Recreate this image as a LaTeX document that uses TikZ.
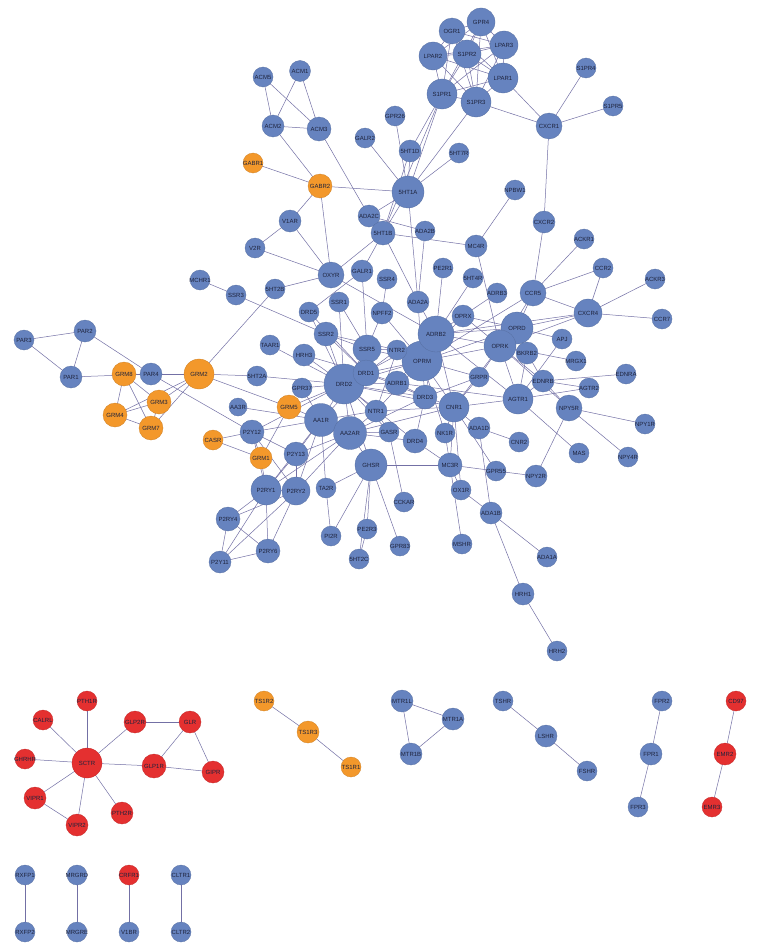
\documentclass[tikz,border=0pt]{standalone}
\usepackage{fontspec}
\setmainfont{Liberation Sans}
\definecolor{nblue}{RGB}{102,131,191}
\definecolor{norange}{RGB}{243,152,43}
\definecolor{nred}{RGB}{228,48,48}
\definecolor{nedge}{RGB}{115,112,165}
\definecolor{ntext}{RGB}{30,35,60}
\pgfdeclarelayer{bg}\pgfdeclarelayer{edges}\pgfsetlayers{bg,edges,main}
\tikzset{
 gnode/.style={circle, inner sep=0pt, font=\fontsize{6}{6}\selectfont, text=ntext, line width=0.3pt},
 bl/.style={gnode, fill=nblue, draw=nblue!85!black},
 org/.style={gnode, fill=norange, draw=norange!85!black},
 rd/.style={gnode, fill=nred, draw=nred!85!black},
 lnk/.style={draw=nedge, line width=0.5pt},
}
\newcommand\gn[5]{\node[#1,minimum size=#5pt] (n#2) at (#3,#4) {\makebox[0pt]{#2}};}
\begin{document}
\begin{tikzpicture}[x=1pt,y=-1pt]
\begin{pgfonlayer}{bg}
\fill[white] (0,0) rectangle (760,950);
\end{pgfonlayer}
\useasboundingbox (0,0) rectangle (760,950);
% main component
\gn{bl}{OGR1}{452}{31}{26}
\gn{bl}{GPR4}{481}{22}{28}
\gn{bl}{LPAR3}{504}{45}{28}
\gn{bl}{S1PR2}{467}{54}{28}
\gn{bl}{LPAR2}{433}{56}{28}
\gn{bl}{LPAR1}{503}{78}{30}
\gn{bl}{S1PR1}{442}{94}{30}
\gn{bl}{S1PR3}{476}{102}{30}
\gn{bl}{S1PR4}{586}{68}{20}
\gn{bl}{S1PR5}{613}{106}{20}
\gn{bl}{CXCR1}{549}{126}{26}
\gn{bl}{ACM5}{263}{77}{20}
\gn{bl}{ACM1}{300}{71}{21}
\gn{bl}{ACM2}{273}{126}{22}
\gn{bl}{ACM3}{319}{129}{24}
\gn{bl}{GPR26}{395}{116}{20}
\gn{bl}{GALR2}{365}{138}{20}
\gn{bl}{5HT1D}{410}{151}{22}
\gn{bl}{5HT7R}{459}{153}{20}
\gn{org}{GABR1}{253}{163}{20}
\gn{org}{GABR2}{320}{186}{24}
\gn{bl}{5HT1A}{408}{192}{32}
\gn{bl}{NPBW1}{515}{190}{20}
\gn{bl}{V1AR}{290}{221}{22}
\gn{bl}{ADA2C}{369}{216}{22}
\gn{bl}{CXCR2}{544}{222}{22}
\gn{bl}{5HT1B}{383}{233}{24}
\gn{bl}{ADA2B}{425}{231}{20}
\gn{bl}{MC4R}{476}{246}{22}
\gn{bl}{V2R}{255}{248}{20}
\gn{bl}{ACKR1}{584}{239}{20}
\gn{bl}{PE2R1}{443}{268}{20}
\gn{bl}{CCR2}{603}{268}{20}
\gn{bl}{OXYR}{331}{275}{26}
\gn{bl}{GALR1}{362}{271}{22}
\gn{bl}{5HT4R}{473}{278}{20}
\gn{bl}{SSR4}{387}{279}{20}
\gn{bl}{ACKR3}{655}{279}{20}
\gn{bl}{MCHR1}{200}{280}{20}
\gn{bl}{5HT2B}{275}{289}{20}
\gn{bl}{SSR3}{236}{295}{20}
\gn{bl}{ADRB3}{497}{293}{20}
\gn{bl}{CCR5}{533}{293}{26}
\gn{bl}{SSR1}{339}{302}{20}
\gn{bl}{ADA2A}{418}{302}{22}
\gn{bl}{DRD5}{309}{312}{20}
\gn{bl}{NPFF2}{382}{313}{22}
\gn{bl}{CXCR4}{588}{313}{28}
\gn{bl}{OPRX}{463}{316}{22}
\gn{bl}{CCR7}{662}{319}{20}
\gn{bl}{OPRD}{517}{328}{32}
\gn{bl}{SSR2}{326}{334}{24}
\gn{bl}{OPRM}{422}{361}{40}
\gn{bl}{ADRB2}{436}{334}{36}
\gn{bl}{PAR2}{85}{331}{22}
\gn{bl}{PAR3}{24}{340}{20}
\gn{bl}{APJ}{562}{339}{20}
\gn{bl}{TAAR1}{270}{345}{20}
\gn{bl}{OPRK}{500}{346}{32}
\gn{bl}{SSR5}{367}{349}{28}
\gn{bl}{NTR2}{397}{350}{20}
\gn{bl}{HRH3}{304}{355}{22}
\gn{bl}{BKRB2}{527}{353}{22}
\gn{bl}{MRGX1}{576}{361}{20}
\gn{bl}{DRD2}{344}{384}{40}
\gn{bl}{DRD1}{366}{373}{26}
\gn{bl}{EDNRA}{626}{374}{20}
\gn{bl}{PAR1}{71}{377}{22}
\gn{org}{GRM8}{124}{374}{24}
\gn{bl}{PAR4}{151}{374}{22}
\gn{org}{GRM2}{199}{374}{30}
\gn{bl}{5HT2A}{257}{376}{20}
\gn{bl}{GRPR}{479}{377}{20}
\gn{bl}{EDNRB}{543}{381}{22}
\gn{bl}{ADRB1}{397}{383}{24}
\gn{bl}{GPR37}{302}{388}{20}
\gn{bl}{AGTR2}{589}{388}{20}
\gn{bl}{DRD3}{425}{397}{24}
\gn{bl}{AGTR1}{518}{399}{30}
\gn{org}{GRM3}{159}{402}{24}
\gn{bl}{AA3R}{238}{407}{18}
\gn{org}{GRM5}{289}{407}{24}
\gn{bl}{CNR1}{454}{407}{30}
\gn{bl}{NPY5R}{569}{408}{26}
\gn{bl}{NTR1}{376}{411}{22}
\gn{org}{GRM4}{115}{415}{24}
\gn{bl}{AA1R}{321}{420}{33}
\gn{bl}{NPY1R}{645}{424}{20}
\gn{org}{GRM7}{151}{428}{24}
\gn{bl}{ADA1D}{479}{428}{22}
\gn{bl}{P2Y12}{252}{432}{24}
\gn{bl}{AA2AR}{350}{433}{33}
\gn{bl}{GASR}{389}{432}{20}
\gn{bl}{NK1R}{445}{433}{20}
\gn{bl}{DRD4}{415}{441}{24}
\gn{bl}{CNR2}{519}{442}{20}
\gn{org}{CASR}{213}{440}{20}
\gn{bl}{MAS}{579}{453}{20}
\gn{bl}{P2Y13}{296}{454}{24}
\gn{org}{GRM1}{261}{458}{22}
\gn{bl}{NPY4R}{628}{457}{20}
\gn{bl}{GHSR}{371}{465}{32}
\gn{bl}{MC3R}{450}{465}{24}
\gn{bl}{GPR55}{496}{471}{20}
\gn{bl}{NPY2R}{536}{476}{22}
\gn{bl}{P2RY1}{266}{490}{30}
\gn{bl}{P2RY2}{296}{491}{28}
\gn{bl}{TA2R}{326}{488}{20}
\gn{bl}{OX1R}{461}{490}{20}
\gn{bl}{CCKAR}{404}{502}{20}
\gn{bl}{ADA1B}{491}{513}{22}
\gn{bl}{P2RY4}{228}{519}{24}
\gn{bl}{PE2R3}{367}{529}{20}
\gn{bl}{PI2R}{331}{536}{20}
\gn{bl}{GPR83}{400}{546}{20}
\gn{bl}{MSHR}{462}{544}{20}
\gn{bl}{P2RY6}{268}{551}{24}
\gn{bl}{ADA1A}{547}{557}{20}
\gn{bl}{5HT2C}{359}{559}{20}
\gn{bl}{P2Y11}{220}{562}{22}
\gn{bl}{HRH1}{523}{594}{22}
\gn{bl}{HRH2}{557}{651}{20}
% small components
\gn{rd}{PTH1R}{87}{701}{20}
\gn{rd}{CALRL}{43}{720}{20}
\gn{rd}{GLP2R}{135}{722}{22}
\gn{rd}{GLR}{190}{722}{22}
\gn{rd}{GHRHR}{25}{759}{20}
\gn{rd}{SCTR}{87}{763}{30}
\gn{rd}{GLP1R}{154}{766}{24}
\gn{rd}{GIPR}{213}{772}{22}
\gn{rd}{VIPR1}{35}{798}{22}
\gn{rd}{PTH2R}{122}{813}{22}
\gn{rd}{VIPR2}{77}{825}{22}
\gn{org}{TS1R2}{264}{701}{20}
\gn{org}{TS1R3}{308}{732}{22}
\gn{org}{TS1R1}{351}{767}{20}
\gn{bl}{RXFP1}{25}{875}{20}
\gn{bl}{RXFP2}{25}{932}{20}
\gn{bl}{MRGRD}{77}{875}{20}
\gn{bl}{MRGRE}{77}{932}{20}
\gn{rd}{CRFR1}{129}{875}{20}
\gn{bl}{V1BR}{129}{932}{20}
\gn{bl}{CLTR1}{181}{875}{20}
\gn{bl}{CLTR2}{181}{932}{20}
\gn{bl}{MTR1L}{402}{701}{22}
\gn{bl}{MTR1A}{453}{719}{22}
\gn{bl}{MTR1B}{411}{754}{22}
\gn{bl}{TSHR}{503}{701}{20}
\gn{bl}{LSHR}{546}{736}{22}
\gn{bl}{FSHR}{587}{771}{20}
\gn{bl}{FPR2}{662}{701}{20}
\gn{bl}{FPR1}{651}{754}{22}
\gn{bl}{FPR3}{638}{807}{20}
\gn{rd}{CD97}{736}{701}{20}
\gn{rd}{EMR2}{725}{754}{22}
\gn{rd}{EMR3}{712}{807}{20}
\begin{pgfonlayer}{edges}
\foreach \a/\b in {
OGR1/GPR4, OGR1/LPAR3, OGR1/S1PR2, OGR1/LPAR2, OGR1/LPAR1, OGR1/S1PR1, OGR1/S1PR3,
GPR4/LPAR3, GPR4/S1PR2, GPR4/LPAR2, GPR4/LPAR1, GPR4/S1PR1, GPR4/S1PR3,
LPAR3/S1PR2, LPAR3/LPAR2, LPAR3/LPAR1, LPAR3/S1PR1, LPAR3/S1PR3,
S1PR2/LPAR2, S1PR2/LPAR1, S1PR2/S1PR1, S1PR2/S1PR3,
LPAR2/LPAR1, LPAR2/S1PR1, LPAR2/S1PR3, LPAR1/S1PR1, LPAR1/S1PR3, S1PR1/S1PR3,
LPAR1/CXCR1, S1PR3/CXCR1, CXCR1/S1PR4, CXCR1/S1PR5, CXCR1/CXCR2,
S1PR1/5HT1D, S1PR1/5HT1A, S1PR1/5HT1B, S1PR3/5HT1A,
5HT1A/5HT1D, 5HT1A/GPR26, 5HT1A/GALR2, 5HT1A/GABR2, 5HT1A/5HT7R, 5HT1A/5HT1B, 5HT1A/ADA2C, 5HT1A/ADA2A, 5HT1D/5HT1B,
ACM5/ACM2, ACM5/ACM3, ACM1/ACM2, ACM1/ACM3, ACM2/ACM3, ACM2/GABR2, ACM3/ADA2C,
GABR1/GABR2, GABR2/V1AR, GABR2/OXYR, V1AR/V2R, V1AR/OXYR, V2R/OXYR,
OXYR/5HT1B, OXYR/5HT2B, OXYR/ADRB2, 5HT2B/GRM2, MCHR1/SSR3, SSR3/SSR2,
5HT1B/GALR1, 5HT1B/ADA2A, 5HT1B/MC4R, ADA2C/ADA2B,
GALR1/DRD5, GALR1/SSR5, SSR4/NPFF2, NPFF2/SSR5, NPFF2/OPRM,
SSR1/SSR5, SSR1/DRD2, SSR2/SSR5, SSR2/DRD2, SSR2/DRD1, SSR2/NTR2,
HRH3/DRD2, HRH3/DRD1, TAAR1/DRD2, SSR5/DRD2, SSR5/DRD1, SSR5/OPRM, SSR5/NTR2,
ADA2B/ADA2A, ADA2A/ADRB2, ADA2A/OPRM, MC4R/NPBW1, MC4R/OPRK,
PE2R1/ADRB2, 5HT4R/ADRB2, ADRB3/ADRB2, OPRX/OPRM, OPRX/OPRK, OPRX/OPRD,
CXCR2/CCR5, CCR5/ACKR1, CCR5/CCR2, CCR5/CXCR4, CCR5/OPRD, CCR5/OPRK, CCR5/OPRM,
CXCR4/CCR2, CXCR4/ACKR3, CXCR4/CCR7, CXCR4/OPRD, CXCR4/OPRK, CXCR4/ADRB2,
OPRM/ADRB2, OPRM/OPRK, OPRM/OPRD, OPRM/DRD2, OPRM/DRD1, OPRM/NTR2, OPRM/CNR1, OPRM/DRD3, OPRM/GRPR, OPRM/NK1R, OPRM/NTR1,
ADRB2/OPRD, ADRB2/OPRK, ADRB2/ADRB1, ADRB2/AGTR1, ADRB2/CNR1, ADRB2/DRD3,
OPRD/OPRK, OPRD/APJ, OPRK/BKRB2, OPRK/AGTR1, OPRK/CNR1, OPRK/MRGX1, OPRK/EDNRB, OPRK/GRPR, OPRK/NPY5R,
BKRB2/AGTR1, BKRB2/EDNRB, APJ/AGTR1, EDNRB/EDNRA, EDNRB/AGTR1, EDNRB/NPY5R, EDNRB/AGTR2,
AGTR1/AGTR2, AGTR1/MAS, AGTR1/CNR1, NPY5R/NPY1R, NPY5R/NPY4R, NPY5R/NPY2R,
DRD2/5HT2A, DRD2/GPR37, DRD2/DRD1, DRD2/ADRB1, DRD2/NTR1, DRD2/AA1R, DRD2/AA2AR, DRD2/DRD3, DRD2/DRD4, DRD2/GHSR, DRD2/GASR, DRD2/GRM5, DRD2/P2Y12, DRD2/DRD5, DRD2/CNR1, DRD2/ADRB2,
5HT2A/GRM2, DRD1/DRD3, DRD1/ADRB1, DRD1/AA1R, DRD1/DRD5, DRD1/NTR2,
ADRB1/DRD3, ADRB1/AGTR1, DRD3/DRD4, DRD3/CNR1, DRD3/AA2AR, DRD3/GRPR,
AA1R/AA2AR, AA1R/AA3R, AA1R/P2Y12, AA1R/P2Y13, AA1R/P2RY1, AA1R/P2RY2, AA1R/GRM5, AA1R/GPR37, AA1R/TA2R, AA1R/NTR1,
AA2AR/P2RY1, AA2AR/P2RY2, AA2AR/P2Y13, AA2AR/GHSR, AA2AR/NTR1, AA2AR/CNR1, AA2AR/DRD4, AA2AR/GASR,
GHSR/TA2R, GHSR/PI2R, GHSR/PE2R3, GHSR/5HT2C, GHSR/GPR83, GHSR/MC3R, TA2R/PI2R, PE2R3/5HT2C,
GASR/CCKAR, GASR/NTR1, GRM5/GRM1, GRM5/GRM2, GRM1/CASR, CASR/P2Y12, GRM1/P2RY1, GRM1/P2Y12,
P2Y12/P2Y13, P2Y12/P2RY1, P2Y12/PAR4, P2Y12/P2RY2, P2Y13/P2RY1, P2Y13/P2RY2,
P2RY1/P2RY2, P2RY1/P2RY4, P2RY1/P2Y11, P2RY1/P2RY6, P2RY2/P2RY4, P2RY2/P2RY6, P2RY2/P2Y11,
P2RY4/P2Y11, P2RY4/P2RY6, P2Y11/P2RY6,
PAR3/PAR2, PAR3/PAR1, PAR2/PAR1, PAR2/PAR4, PAR1/PAR4,
GRM8/GRM4, GRM8/GRM7, GRM8/GRM3, GRM8/GRM2, GRM4/GRM3, GRM4/GRM2, GRM4/GRM7, GRM3/GRM7, GRM3/GRM2, GRM7/GRM2, PAR4/GRM2,
CNR1/MC3R, CNR1/OX1R, CNR1/GPR55, CNR1/ADA1D, CNR1/NK1R, CNR1/GRPR, CNR1/NTR1,
ADA1D/CNR2, ADA1D/ADA1B, MC3R/GPR55, GPR55/NPY2R, MC3R/OX1R, MC3R/MSHR, MC3R/NK1R, MC3R/DRD4,
OX1R/ADA1B, ADA1B/ADA1A, ADA1B/HRH1, HRH1/HRH2, NTR1/NTR2,
SCTR/PTH1R, SCTR/CALRL, SCTR/GHRHR, SCTR/GLP2R, SCTR/GLP1R, SCTR/VIPR1, SCTR/VIPR2, SCTR/PTH2R,
GLP2R/GLR, GLR/GLP1R, GLR/GIPR, GLP1R/GIPR, VIPR1/VIPR2, TS1R2/TS1R3, TS1R3/TS1R1,
RXFP1/RXFP2, MRGRD/MRGRE, CRFR1/V1BR, CLTR1/CLTR2,
MTR1L/MTR1A, MTR1L/MTR1B, MTR1A/MTR1B, TSHR/LSHR, LSHR/FSHR, FPR2/FPR1, FPR1/FPR3, CD97/EMR2, EMR2/EMR3}
{\draw[lnk] (n\a.center) -- (n\b.center);}
\end{pgfonlayer}
\end{tikzpicture}
\end{document}
